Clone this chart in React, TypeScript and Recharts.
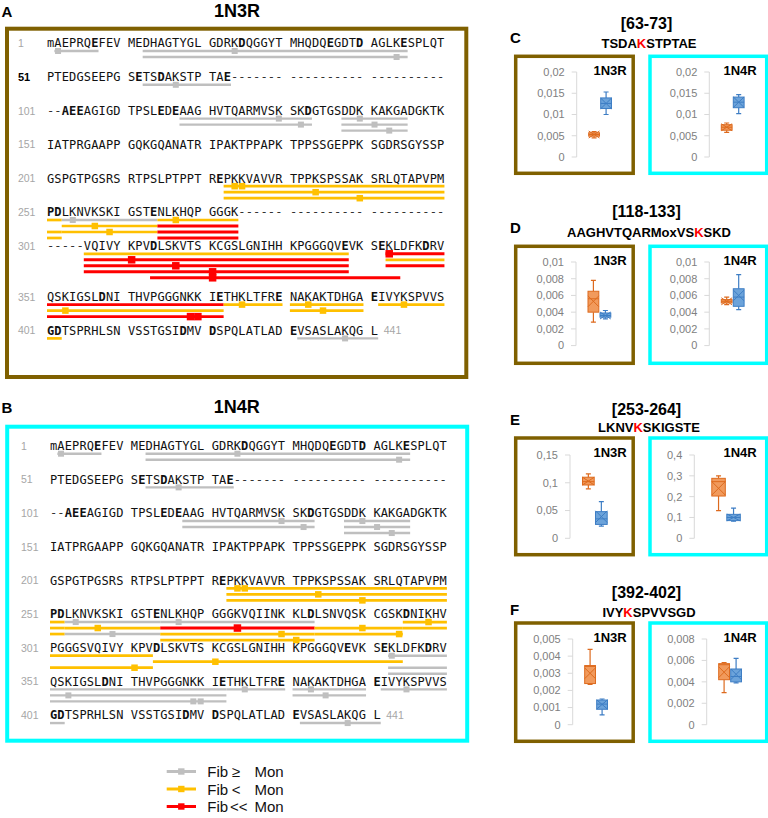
import React from 'react';
import { ScatterChart, Scatter, XAxis, YAxis, ReferenceLine, ComposedChart, Bar } from 'recharts';

// ---------- Sequence data (2N4R numbering) ----------
const SEQ_ROWS = [
  'MAEPRQEFEVMEDHAGTYGLGDRKDQGGYTMHQDQEGDTDAGLKESPLQT',
  'PTEDGSEEPGSETSDAKSTPTAEDVTAPLVDEGAPGKQAAAQPHTEIPEG',
  'TTAEEAGIGDTPSLEDEAAGHVTQARMVSKSKDGTGSDDKKAKGADGKTK',
  'IATPRGAAPPGQKGQANATRIPAKTPPAPKTPPSSGEPPKSGDRSGYSSP',
  'GSPGTPGSRSRTPSLPTPPTREPKKVAVVRTPPKSPSSAKSRLQTAPVPM',
  'PDLKNVKSKIGSTENLKHQPGGGKVQIINKKLDLSNVQSKCGSKDNIKHV',
  'PGGGSVQIVYKPVDLSKVTSKCGSLGNIHHKPGGGQVEVKSEKLDFKDRV',
  'QSKIGSLDNITHVPGGGNKKIETHKLTFRENAKAKTDHGAEIVYKSPVVS',
  'GDTSPRHLSNVSSTGSIDMVDSPQLATLADEVSASLAKQGL',
];
const ROW_STARTS = [1, 51, 101, 151, 201, 251, 301, 351, 401];
const LAST_RES_LABEL = '441';
const BOLD_RES = [7, 25, 36, 40, 45, 62, 65, 73, 103, 104, 105, 115, 117, 133, 222, 251, 252, 264, 283, 295,
  314, 338, 342, 348, 358, 372, 380, 391, 401, 402, 418, 421, 431];
const MISSING_1N3R: [number, number][] = [[74, 102], [275, 305]];
const MISSING_1N4R: [number, number][] = [[74, 102]];

type Cls = 'ge' | 'lt' | 'll';
type Pep = { s: number; e: number; c: Cls; k: number[]; lane: number; lane2?: number };

const PEP_NTERM: Pep[] = [
  { s: 2, e: 7, c: 'ge', k: [2], lane: 0 },
  { s: 13, e: 45, c: 'ge', k: [24], lane: 0 },
  { s: 13, e: 45, c: 'ge', k: [44], lane: 1 },
  { s: 63, e: 73, c: 'ge', k: [67], lane: 0 },
  { s: 118, e: 133, c: 'ge', k: [130], lane: 0 },
  { s: 118, e: 133, c: 'ge', k: [132], lane: 1 },
  { s: 138, e: 145, c: 'ge', k: [140], lane: 0 },
  { s: 138, e: 145, c: 'ge', k: [141], lane: 1 },
  { s: 138, e: 145, c: 'ge', k: [143], lane: 2 },
];

const PEP_1N3R: Pep[] = [
  { s: 223, e: 252, c: 'lt', k: [224, 225], lane: 0, lane2: 0 },
  { s: 223, e: 252, c: 'lt', k: [234], lane: 1, lane2: 2 },
  { s: 223, e: 252, c: 'lt', k: [240], lane: 2, lane2: 3 },
  { s: 253, e: 264, c: 'ge', k: [254], lane: 0 },
  { s: 253, e: 264, c: 'lt', k: [257], lane: 1 },
  { s: 253, e: 264, c: 'lt', k: [259], lane: 2 },
  { s: 265, e: 274, c: 'lt', k: [267], lane: 0 },
  { s: 265, e: 274, c: 'll', k: [], lane: 1 },
  { s: 265, e: 274, c: 'll', k: [], lane: 2 },
  { s: 265, e: 274, c: 'll', k: [], lane: 3 },
  { s: 306, e: 338, c: 'lt', k: [], lane: 0 },
  { s: 306, e: 338, c: 'll', k: [311], lane: 1 },
  { s: 306, e: 338, c: 'll', k: [317], lane: 2 },
  { s: 306, e: 338, c: 'll', k: [321], lane: 3 },
  { s: 314, e: 344, c: 'll', k: [321], lane: 4 },
  { s: 343, e: 372, c: 'll', k: [343], lane: 0, lane2: 0 },
  { s: 343, e: 372, c: 'lt', k: [353], lane: 1, lane2: 1 },
  { s: 343, e: 372, c: 'll', k: [369, 370], lane: 2, lane2: 2 },
  { s: 373, e: 380, c: 'lt', k: [375], lane: 0 },
  { s: 381, e: 390, c: 'lt', k: [383], lane: 0 },
  { s: 381, e: 390, c: 'lt', k: [385], lane: 1 },
  { s: 392, e: 402, c: 'lt', k: [395], lane: 0, lane2: 0 },
  { s: 432, e: 441, c: 'ge', k: [438], lane: 0 },
];

const PEP_1N4R: Pep[] = [
  { s: 223, e: 252, c: 'lt', k: [224, 225], lane: 0, lane2: 0 },
  { s: 223, e: 252, c: 'lt', k: [234], lane: 1, lane2: 1 },
  { s: 223, e: 252, c: 'lt', k: [240], lane: 2, lane2: 2 },
  { s: 253, e: 264, c: 'ge', k: [254], lane: 0 },
  { s: 253, e: 264, c: 'lt', k: [257], lane: 1 },
  { s: 253, e: 264, c: 'ge', k: [259], lane: 2 },
  { s: 265, e: 283, c: 'ge', k: [267], lane: 0 },
  { s: 265, e: 283, c: 'll', k: [274], lane: 1 },
  { s: 265, e: 283, c: 'lt', k: [280], lane: 2 },
  { s: 265, e: 283, c: 'lt', k: [281], lane: 3 },
  { s: 284, e: 294, c: 'lt', k: [290], lane: 1 },
  { s: 284, e: 294, c: 'lt', k: [294], lane: 2 },
  { s: 295, e: 313, c: 'lt', k: [298], lane: 0, lane2: 0 },
  { s: 295, e: 313, c: 'lt', k: [311], lane: 1, lane2: 2 },
  { s: 314, e: 344, c: 'lt', k: [321], lane: 1 },
  { s: 343, e: 372, c: 'ge', k: [343], lane: 0, lane2: 0 },
  { s: 343, e: 372, c: 'ge', k: [353], lane: 2, lane2: 1 },
  { s: 343, e: 372, c: 'ge', k: [369, 370], lane: 3, lane2: 2 },
  { s: 373, e: 380, c: 'ge', k: [375], lane: 0 },
  { s: 381, e: 390, c: 'ge', k: [383], lane: 0 },
  { s: 381, e: 390, c: 'ge', k: [385], lane: 1 },
  { s: 392, e: 402, c: 'ge', k: [395], lane: 0, lane2: 0 },
  { s: 432, e: 441, c: 'ge', k: [438], lane: 0 },
];

// ---------- Box plot data ----------
type Stat = { min: number; q1: number; med: number; q3: number; max: number; mean: number };
const C_N3R_ORANGE: Stat = { min: 0.0045, q1: 0.0049, med: 0.0053, q3: 0.0057, max: 0.006, mean: 0.0053 };
const C_N3R_BLUE: Stat = { min: 0.01, q1: 0.0114, med: 0.0126, q3: 0.0139, max: 0.0153, mean: 0.0126 };
const C_N4R_ORANGE: Stat = { min: 0.0058, q1: 0.0063, med: 0.007, q3: 0.0076, max: 0.008, mean: 0.007 };
const C_N4R_BLUE: Stat = { min: 0.0102, q1: 0.0116, med: 0.0129, q3: 0.0141, max: 0.0147, mean: 0.0129 };
const D_N3R_ORANGE: Stat = { min: 0.0028, q1: 0.004, med: 0.0056, q3: 0.0065, max: 0.0078, mean: 0.0053 };
const D_N3R_BLUE: Stat = { min: 0.0032, q1: 0.0034, med: 0.0036, q3: 0.0039, max: 0.0042, mean: 0.0036 };
const D_N4R_ORANGE: Stat = { min: 0.0049, q1: 0.0051, med: 0.0053, q3: 0.0055, max: 0.0058, mean: 0.0053 };
const D_N4R_BLUE: Stat = { min: 0.0043, q1: 0.0047, med: 0.0058, q3: 0.0068, max: 0.0085, mean: 0.006 };
const E_N3R_ORANGE: Stat = { min: 0.089, q1: 0.096, med: 0.102, q3: 0.11, max: 0.116, mean: 0.103 };
const E_N3R_BLUE: Stat = { min: 0.022, q1: 0.025, med: 0.035, q3: 0.048, max: 0.066, mean: 0.039 };
const E_N4R_ORANGE: Stat = { min: 0.133, q1: 0.203, med: 0.272, q3: 0.288, max: 0.3, mean: 0.24 };
const E_N4R_BLUE: Stat = { min: 0.082, q1: 0.085, med: 0.1, q3: 0.115, max: 0.145, mean: 0.1 };
const F_N3R_ORANGE: Stat = { min: 0.00235, q1: 0.0024, med: 0.0034, q3: 0.00345, max: 0.0044, mean: 0.003 };
const F_N3R_BLUE: Stat = { min: 0.00057, q1: 0.0009, med: 0.0012, q3: 0.00144, max: 0.0015, mean: 0.00118 };
const F_N4R_ORANGE: Stat = { min: 0.003, q1: 0.0042, med: 0.0056, q3: 0.0057, max: 0.0058, mean: 0.0049 };
const F_N4R_BLUE: Stat = { min: 0.0039, q1: 0.004, med: 0.0045, q3: 0.0052, max: 0.0062, mean: 0.0047 };

const TICKS_C = [0, 0.005, 0.01, 0.015, 0.02];
const TICKS_D = [0, 0.002, 0.004, 0.006, 0.008, 0.01];
const TICKS_E_N3R = [0, 0.05, 0.1, 0.15];
const TICKS_E_N4R = [0, 0.1, 0.2, 0.3, 0.4];
const TICKS_F_N3R = [0, 0.001, 0.002, 0.003, 0.004, 0.005];
const TICKS_F_N4R = [0, 0.002, 0.004, 0.006, 0.008];

const BOX_LETTERS = ['C', 'D', 'E', 'F'];
const BOX_TITLES = ['[63-73]', '[118-133]', '[253-264]', '[392-402]'];
const BOX_PEPTIDES = ['TSDAKSTPTAE', 'AAGHVTQARMoxVSKSKD', 'LKNVKSKIGSTE', 'IVYKSPVVSGD'];
const BOX_SITE_INDEX = [4, 14, 4, 3];

const LEGEND_CLASSES: Cls[] = ['ge', 'lt', 'll'];
const LEGEND_SYMBOLS = ['≥', '<', '<<'];

// ---------- styles ----------
const COLORS: Record<Cls, string> = { ge: '#BFBFBF', lt: '#FFC000', ll: '#FF0000' };
const LINE_W: Record<Cls, number> = { ge: 2.4, lt: 2.7, ll: 2.9 };
const MARK: Record<Cls, number> = { ge: 6, lt: 6.5, ll: 7.5 };
const BROWN = '#7F6000';
const CYAN = '#00FFFF';
const ORANGE = { fill: '#F19A5C', line: '#DD6A1E' };
const BLUE = { fill: '#6CA3DA', line: '#3D7DC4' };
const SANS = "'Liberation Sans', Arial, sans-serif";
const MONO = "'DejaVu Sans Mono', monospace";

const pLeft = (c: number) => c + Math.floor(c / 10);
const rowOf = (res: number) => Math.floor((res - 1) / 50);
const colOf = (res: number) => (res - 1) % 50;

const CharShape = (props: any) => {
  const { cx, cy, payload } = props;
  const k = payload.kind;
  if (k === 'num' || k === 'num51') {
    return (
      <text x={cx} y={cy + 4} fontFamily={SANS} fontSize={k === 'num51' ? 11 : 10.5}
        fontWeight={k === 'num51' ? 'bold' : 'normal'} fill={k === 'num51' ? '#000' : '#A6A6A6'}>
        {payload.ch}
      </text>
    );
  }
  return (
    <text x={cx} y={cy + 4.3} fontFamily={MONO} fontSize={12}
      fontWeight={k === 'bold' ? 'bold' : 'normal'} fill={k === 'dash' ? '#333' : '#111'}>
      {payload.ch}
    </text>
  );
};

const markShape = (c: Cls) => (props: any) => {
  const { cx, cy } = props;
  const s = MARK[c];
  return <rect x={cx - s / 2} y={cy - s / 2} width={s} height={s} fill={COLORS[c]} />;
};

type SeqProps = {
  peps: Pep[]; missing: [number, number][]; top: number; height: number;
  x0: number; cw: number; base: number; step: number; bold51: boolean;
};

function SeqMap({ peps, missing, top, height, x0, cw, base, step, bold51 }: SeqProps) {
  const W = 470;
  const xDomain: [number, number] = [-x0 / cw, (W - x0) / cw];
  const laneIn = (p: Pep, r: number) => (r === rowOf(p.s) ? p.lane : (p.lane2 ?? p.lane));
  const rowY: number[] = [];
  let acc = base;
  for (let r = 0; r < SEQ_ROWS.length; r++) {
    rowY.push(acc);
    let ml = 0;
    peps.forEach((p) => {
      if (rowOf(p.s) <= r && rowOf(p.e) >= r) ml = Math.max(ml, laneIn(p, r));
    });
    acc += step + Math.max(0, ml - 3) * 17;
  }
  const laneY = (r: number, lane: number) => rowY[r] + 8 + lane * 6;
  const isMissing = (res: number) => missing.some(([a, b]) => res >= a && res <= b);

  const chars: any[] = [];
  SEQ_ROWS.forEach((row, r) => {
    chars.push({ x: -3.95, y: rowY[r], ch: String(ROW_STARTS[r]), kind: r === 1 && bold51 ? 'num51' : 'num' });
    for (let c = 0; c < row.length; c++) {
      const res = ROW_STARTS[r] + c;
      const miss = isMissing(res);
      chars.push({
        x: pLeft(c), y: rowY[r],
        ch: miss ? '-' : res === 1 ? 'm' : row[c],
        kind: miss ? 'dash' : BOLD_RES.includes(res) ? 'bold' : 'res',
      });
    }
  });
  const lastRow = SEQ_ROWS.length - 1;
  chars.push({ x: pLeft(SEQ_ROWS[lastRow].length - 1) + 1.75, y: rowY[lastRow], ch: LAST_RES_LABEL, kind: 'num' });

  const segs: any[] = [];
  const marks: any[] = [];
  peps.forEach((p, i) => {
    for (let r = rowOf(p.s); r <= rowOf(p.e); r++) {
      const cs = r === rowOf(p.s) ? colOf(p.s) : 0;
      const ce = r === rowOf(p.e) ? colOf(p.e) : 49;
      segs.push({ x1: pLeft(cs), x2: pLeft(ce) + 1, y: laneY(r, laneIn(p, r)), c: p.c, key: `${i}-${r}` });
    }
    p.k.forEach((site) => {
      const r = rowOf(site);
      marks.push({ x: pLeft(colOf(site)) + 0.5, y: laneY(r, laneIn(p, r)), c: p.c });
    });
  });

  return (
    <div style={{ position: 'absolute', left: 0, top }}>
      <ScatterChart width={W} height={height} margin={{ top: 0, right: 0, bottom: 0, left: 0 }}>
        <XAxis type="number" dataKey="x" domain={xDomain} hide allowDataOverflow />
        <YAxis type="number" dataKey="y" domain={[0, height]} reversed hide allowDataOverflow />
        {segs.map((s) => (
          <ReferenceLine key={s.key} segment={[{ x: s.x1, y: s.y }, { x: s.x2, y: s.y }]}
            stroke={COLORS[s.c as Cls]} strokeWidth={LINE_W[s.c as Cls]} ifOverflow="visible" />
        ))}
        {(['ge', 'lt', 'll'] as Cls[]).map((c) => (
          <Scatter key={c} data={marks.filter((m) => m.c === c)} shape={markShape(c)} isAnimationActive={false} />
        ))}
        <Scatter data={chars} shape={CharShape} isAnimationActive={false} />
      </ScatterChart>
    </div>
  );
}

const BoxShape = (props: any) => {
  const { x, y, width, height, payload } = props;
  const p = payload as Stat & { col: string };
  const topY = Math.min(y, y + height);
  const h = Math.abs(height);
  const f = h / (p.q3 - p.q1);
  const Y = (v: number) => topY + (p.q3 - v) * f;
  const cx = x + width / 2;
  const pal = p.col === 'o' ? ORANGE : BLUE;
  const cap = 2.5;
  const hx = width / 2;
  const hy = Math.min(width / 2, Math.max(h / 2, 3.5));
  const ym = Y(p.mean);
  return (
    <g>
      <line x1={cx} x2={cx} y1={Y(p.max)} y2={topY} stroke={pal.line} strokeWidth={1.2} />
      <line x1={cx} x2={cx} y1={topY + h} y2={Y(p.min)} stroke={pal.line} strokeWidth={1.2} />
      <line x1={cx - cap} x2={cx + cap} y1={Y(p.max)} y2={Y(p.max)} stroke={pal.line} strokeWidth={1.2} />
      <line x1={cx - cap} x2={cx + cap} y1={Y(p.min)} y2={Y(p.min)} stroke={pal.line} strokeWidth={1.2} />
      <rect x={x} y={topY} width={width} height={h} fill={pal.fill} stroke={pal.line} strokeWidth={1} />
      <line x1={x} x2={x + width} y1={Y(p.med)} y2={Y(p.med)} stroke={pal.line} strokeWidth={1} />
      <line x1={cx - hx} y1={ym - hy} x2={cx + hx} y2={ym + hy} stroke={pal.line} strokeWidth={1} />
      <line x1={cx - hx} y1={ym + hy} x2={cx + hx} y2={ym - hy} stroke={pal.line} strokeWidth={1} />
    </g>
  );
};

const fmtTick = (v: number) => String(v).replace('.', ',');

type BoxProps = {
  left: number; plotTop: number; plotBottom: number; axisX: number; ticks: number[];
  orange: Stat; blue: Stat; band?: number; padL?: number;
};

function BoxChart({ left, plotTop, plotBottom, axisX, ticks, orange, blue, band = 12, padL = 11 }: BoxProps) {
  const mt = 10;
  const mb = 10;
  const height = plotBottom - plotTop + mt + mb;
  const yw = axisX - left;
  const padR = 4;
  const width = yw + padL + 2 * band + padR;
  const data = [
    { g: 'Mon', range: [orange.q1, orange.q3], ...orange, col: 'o' },
    { g: 'Fib', range: [blue.q1, blue.q3], ...blue, col: 'b' },
  ];
  return (
    <div style={{ position: 'absolute', left, top: plotTop - mt }}>
      <ComposedChart width={width} height={height} data={data} margin={{ top: mt, right: 0, bottom: mb, left: 0 }}>
        <XAxis dataKey="g" type="category" hide padding={{ left: padL, right: padR }} />
        <YAxis type="number" domain={[0, ticks[ticks.length - 1]]} ticks={ticks} width={yw} interval={0}
          tick={{ fill: '#808080', fontSize: 11, fontFamily: SANS }} tickFormatter={fmtTick}
          axisLine={{ stroke: '#D9D9D9' }} tickLine={{ stroke: '#D9D9D9' }} tickSize={5} tickMargin={7}
          allowDataOverflow />
        <Bar dataKey="range" barSize={band} shape={BoxShape} isAnimationActive={false} />
      </ComposedChart>
    </div>
  );
}

// box panel layout
const BOX_TOPS = [56.3, 246.3, 438, 623];
const BOX_H = [117, 117, 116.7, 118.3];
const TITLE_Y = [29.3, 216.7, 415, 598.3];
const SUB_Y = [48.3, 236.7, 431.7, 616.7];
const LETTER_Y = [42.7, 233.3, 425, 615];

export default function App() {
  return (
    <div style={{ position: 'absolute', left: 0, top: 0, width: 768, height: 818, background: '#fff', fontFamily: SANS }}>
      <svg width={768} height={818} style={{ position: 'absolute', left: 0, top: 0 }}>
        {/* Panel A / B frames and titles */}
        <text x={1.5} y={16.7} fontFamily={SANS} fontSize={15} fontWeight="bold">A</text>
        <text x={237} y={17.3} textAnchor="middle" fontFamily={SANS} fontSize={18} fontWeight="bold">1N3R</text>
        <rect x={7} y={28.7} width={459.3} height={348.3} fill="none" stroke={BROWN} strokeWidth={4} />
        <text x={1.5} y={413.3} fontFamily={SANS} fontSize={15} fontWeight="bold">B</text>
        <text x={236.7} y={413.3} textAnchor="middle" fontFamily={SANS} fontSize={18} fontWeight="bold">1N4R</text>
        <rect x={7.2} y={426.7} width={460} height={314} fill="none" stroke={CYAN} strokeWidth={4} />

        {/* Box panels */}
        {BOX_LETTERS.map((L, i) => (
          <g key={L}>
            <text x={510} y={LETTER_Y[i]} fontFamily={SANS} fontSize={15} fontWeight="bold">{L}</text>
            <text x={646.5} y={TITLE_Y[i]} textAnchor="middle" fontFamily={SANS} fontSize={16} fontWeight="bold">{BOX_TITLES[i]}</text>
            <text x={649} y={SUB_Y[i]} textAnchor="middle" fontFamily={SANS} fontSize={13} fontWeight="bold">
              <tspan>{BOX_PEPTIDES[i].slice(0, BOX_SITE_INDEX[i])}</tspan>
              <tspan fill="#FF0000">{BOX_PEPTIDES[i][BOX_SITE_INDEX[i]]}</tspan>
              <tspan>{BOX_PEPTIDES[i].slice(BOX_SITE_INDEX[i] + 1)}</tspan>
            </text>
            <rect x={515.7} y={BOX_TOPS[i]} width={117.5} height={BOX_H[i]} fill="none" stroke={BROWN} strokeWidth={3.5} />
            <rect x={650} y={BOX_TOPS[i]} width={116.7} height={BOX_H[i]} fill="none" stroke={CYAN} strokeWidth={3.5} />
            <text x={626.7} y={BOX_TOPS[i] + 18.7} textAnchor="end" fontFamily={SANS} fontSize={13} fontWeight="bold">1N3R</text>
            <text x={756.7} y={BOX_TOPS[i] + 18.7} textAnchor="end" fontFamily={SANS} fontSize={13} fontWeight="bold">1N4R</text>
          </g>
        ))}

        {/* Legend */}
        {LEGEND_CLASSES.map((c, i) => {
          const y = 771.5 + i * 17.5;
          return (
            <g key={c}>
              <line x1={166.7} x2={196} y1={y} y2={y} stroke={COLORS[c]} strokeWidth={3} />
              <rect x={181.3 - 3.2} y={y - 3.2} width={6.4} height={6.4} fill={COLORS[c]} />
              <text y={y + 5.5} fontFamily={SANS} fontSize={15} fill="#111">
                <tspan x={207.3}>Fib</tspan>
                <tspan x={i === 2 ? 230 : 231.7}>{LEGEND_SYMBOLS[i]}</tspan>
                <tspan x={254.5}>Mon</tspan>
              </text>
            </g>
          );
        })}
      </svg>

      <SeqMap peps={[...PEP_NTERM, ...PEP_1N3R]} missing={MISSING_1N3R} top={27} height={352}
        x0={47} cw={7.36} base={16} step={33.8} bold51={true} />
      <SeqMap peps={[...PEP_NTERM, ...PEP_1N4R]} missing={MISSING_1N4R} top={426} height={316}
        x0={50} cw={7.35} base={19.7} step={33.67} bold51={false} />

      <BoxChart left={518} plotTop={71.7} plotBottom={156.7} axisX={576.7} ticks={TICKS_C} orange={C_N3R_ORANGE} blue={C_N3R_BLUE} />
      <BoxChart left={652} plotTop={71.7} plotBottom={156.7} axisX={709.3} ticks={TICKS_C} orange={C_N4R_ORANGE} blue={C_N4R_BLUE} />
      <BoxChart left={518} plotTop={261.7} plotBottom={345.3} axisX={576} ticks={TICKS_D} orange={D_N3R_ORANGE} blue={D_N3R_BLUE} />
      <BoxChart left={652} plotTop={261.7} plotBottom={345.3} axisX={709.3} ticks={TICKS_D} orange={D_N4R_ORANGE} blue={D_N4R_BLUE} />
      <BoxChart left={518} plotTop={455} plotBottom={538.3} axisX={570} ticks={TICKS_E_N3R} orange={E_N3R_ORANGE} blue={E_N3R_BLUE} band={13} padL={11.5} />
      <BoxChart left={652} plotTop={455} plotBottom={538.3} axisX={694.3} ticks={TICKS_E_N4R} orange={E_N4R_ORANGE} blue={E_N4R_BLUE} band={15} padL={16.5} />
      <BoxChart left={518} plotTop={639} plotBottom={724.7} axisX={572.7} ticks={TICKS_F_N3R} orange={F_N3R_ORANGE} blue={F_N3R_BLUE} />
      <BoxChart left={652} plotTop={639} plotBottom={724.7} axisX={706.7} ticks={TICKS_F_N4R} orange={F_N4R_ORANGE} blue={F_N4R_BLUE} />
    </div>
  );
}
